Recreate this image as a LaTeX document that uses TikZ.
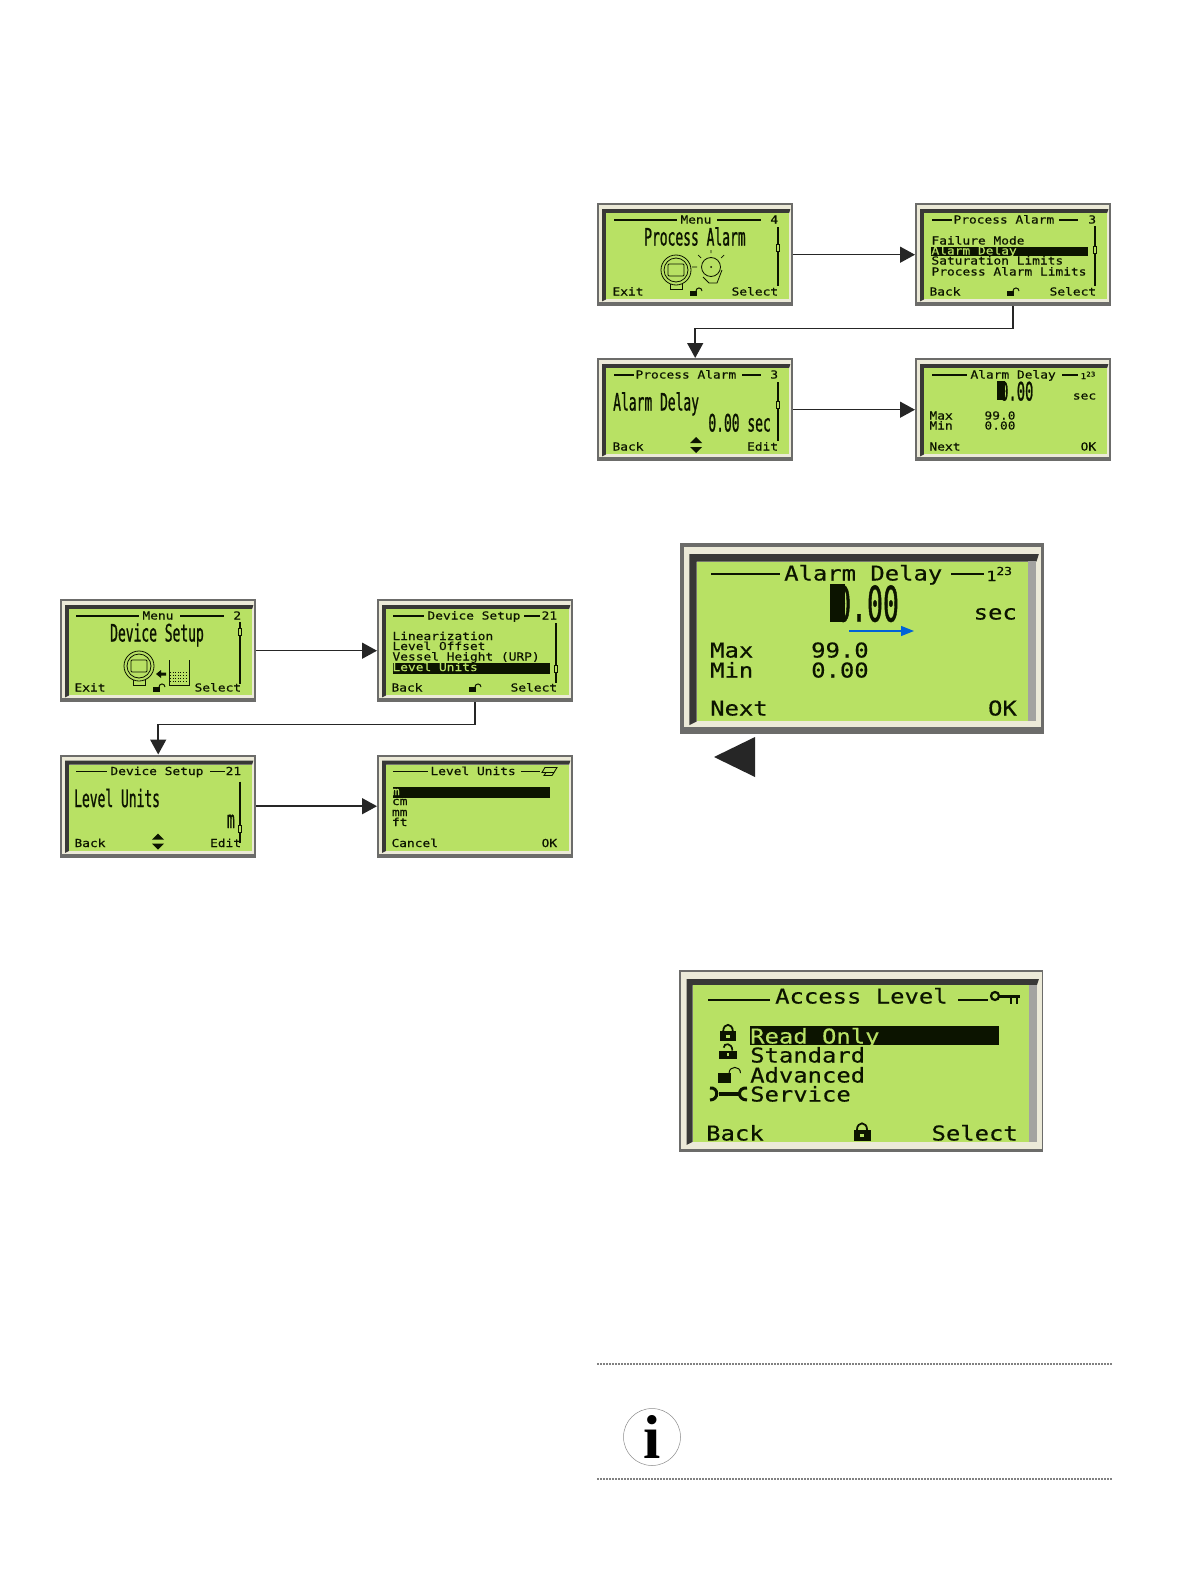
\documentclass[tikz,border=0pt]{standalone}
\usepackage{fontspec}
\usetikzlibrary{arrows.meta,positioning,calc}
\newfontfamily\lcdfont[FakeStretch=1.17,FakeBold=0.4]{DejaVu Sans Mono}
\newfontfamily\lcdtallfont[FakeStretch=0.54,FakeBold=0.8]{DejaVu Sans Mono}
\setmainfont{Liberation Serif}
\definecolor{lcdgreen}{HTML}{B8E164}
\definecolor{lcdink}{HTML}{0C1400}
\definecolor{lcdcream}{HTML}{ECEAD8}
\definecolor{lcdgrey}{HTML}{6C6C6A}
\definecolor{lcddark}{HTML}{383836}
\definecolor{lcdstrip}{HTML}{A3A3A0}
\tikzset{
    lcdouter/.style={fill=lcdgrey,draw=none,inner sep=0pt,anchor=north west},
    lcdsmall/.style={inner sep=0pt,anchor=west,xshift=-.7pt,text=lcdink,text height=7pt,text depth=0pt,font=\lcdfont\fontsize{11}{11}\selectfont},
    lcdbig/.style={inner sep=0pt,anchor=west,text=lcdink,text height=15pt,text depth=0pt,font=\lcdfont\fontsize{20.4}{20.4}\selectfont},
    lcdtall/.style={inner sep=0pt,anchor=west,text=lcdink,text height=17pt,text depth=0pt,font=\lcdtallfont\fontsize{24}{24}\selectfont},
    lcdnum/.style={inner sep=0pt,anchor=west,text=lcdink,text height=19pt,text depth=0pt,font=\lcdtallfont\fontsize{25.5}{25.5}\selectfont},
    lcdnumbig/.style={inner sep=0pt,anchor=west,text=lcdink,text height=37pt,text depth=0pt,font=\lcdtallfont\fontsize{49}{49}\selectfont},
    lcdtiny/.style={inner sep=0pt,anchor=west,text=lcdink,text height=5pt,text depth=0pt,font=\lcdfont\fontsize{6.5}{6.5}\selectfont},
    lcdrule/.style={draw=lcdink,line width=1.1pt},
    lcdarrow/.style={draw=black!85,line width=1.5pt,-{Triangle[length=15pt,width=16pt]}},
    lockopen/.pic={
        \fill[lcdink] (-7,-1) rectangle (0,4);
        \draw[lcdink,line width=1pt] (-1,-1) .. controls (-1,-5) and (5,-5) .. (5,-1);
    },
    lockclosed/.pic={
        \fill[lcdink] (-5,-1) rectangle (5,5);
        \draw[lcdink,line width=1.8pt] (-3,-1) .. controls (-3,-6.5) and (3,-6.5) .. (3,-1);
        \fill[lcdgreen] (-1,1) rectangle (1,3);
    },
    lockhalf/.pic={
        \fill[lcdink] (-6,-1) rectangle (6,5);
        \draw[lcdink,line width=1.7pt] (-3,-3) .. controls (-3,-6.5) and (3,-6.5) .. (3,-1);
        \fill[lcdgreen] (-1,1) rectangle (1,3);
    },
    updown/.pic={
        \fill[lcdink] (-6,-2) -- (0,-8) -- (6,-2) -- cycle;
        \fill[lcdink] (-6,2) -- (0,8) -- (6,2) -- cycle;
    },
    transmitter/.pic={
        \draw[lcdink,line width=.8pt] (0,0) circle[radius=15];
        \draw[lcdink,line width=.8pt] (0,0) circle[radius=12];
        \draw[lcdink,line width=.8pt,rounded corners=1pt] (-8,-6) rectangle (8,6);
        \draw[lcdink,line width=.8pt] (-6,14) -- (-6,19) -- (6,19) -- (6,14);
    },
}
% one display: name, left, top, width, height, bevel factor, cream inset
\newcommand{\lcdscreen}[7]{
    \node[lcdouter,minimum width=#4pt,minimum height=#5pt] (#1) at (#2,#3) {};
    \fill[lcdcream] ([shift={(#7,#7)}]#1.north west) rectangle ([shift={(-#7,-2*#7)}]#1.south east);
    \fill[lcddark] ([shift={(5*#6,6*#6)}]#1.north west) -- ([shift={(-3*#6,6*#6)}]#1.north east)
        -- ([shift={(-4.3*#6,10*#6)}]#1.north east) -- ([shift={(9*#6,10*#6)}]#1.north west)
        -- ([shift={(9*#6,-7*#6)}]#1.south west) -- ([shift={(5*#6,-5*#6)}]#1.south west) -- cycle;
    \fill[lcdgreen] ([shift={(9*#6,10*#6)}]#1.north west) rectangle ([shift={(-4.3*#6,-7*#6)}]#1.south east);
}
\begin{document}
\begin{tikzpicture}[x=1pt,y=-1pt]
    \useasboundingbox (0,0) rectangle (1191,1584);
    \fill[white] (0,0) rectangle (1191,1584);

    % upper chain
    \lcdscreen{menuAlarm}{597}{203}{196}{103}{1}{2}
    \lcdscreen{listAlarm}{915}{203}{196}{103}{1}{2}
    \lcdscreen{showDelay}{597}{358}{196}{103}{1}{2}
    \lcdscreen{editDelay}{915}{358}{196}{103}{1}{2}
    \draw[lcdarrow] (menuAlarm.east) -- (listAlarm.west);
    \draw[lcdarrow] (listAlarm.south) -- ++(0,22) -| (showDelay.north);
    \draw[lcdarrow] (showDelay.east) -- (editDelay.west);

    % lower chain
    \lcdscreen{menuSetup}{60}{599}{196}{103}{1}{2}
    \lcdscreen{listSetup}{377}{599}{196}{103}{1}{2}
    \lcdscreen{showUnits}{60}{754.5}{196}{103}{1}{2}
    \lcdscreen{editUnits}{377}{754.5}{196}{103}{1}{2}
    \draw[lcdarrow] (menuSetup.east) -- (listSetup.west);
    \draw[lcdarrow] (listSetup.south) -- ++(0,22) -| (showUnits.north);
    \draw[lcdarrow] (showUnits.east) -- (editUnits.west);

    % menu / process alarm
    \begin{scope}[shift={(597,203)}]
        \draw[lcdrule] (17,17) -- (80,17) (120,17) -- (164,17) (181,24) -- (181,83);
        \fill[lcdgreen,draw=lcdink,line width=.6pt] (179.5,41) rectangle (182.5,48);
        \node[lcdsmall] (maTitle) at (84,17) {Menu};
        \node[lcdsmall,anchor=east] (maPage) at (182,17) {4};
        \node[lcdtall] (maName) at (47,34) {Process Alarm};
        \pic at (79,67) {transmitter};
        \draw[lcdink,line width=.8pt] (114,64) circle[radius=9.5];
        \draw[lcdink,line width=.8pt] (106,74) -- (112,80) -- (120,80) -- (125,67);
        \fill[lcdink] (114,64) circle[radius=1];
        \draw[lcdink,line width=.7pt] (95,64) -- (100,64) (101,52) -- (104,55) (114,47) -- (114,50) (127,52) -- (124,55);
        \node[lcdsmall] (maExit) at (16,89) {Exit};
        \pic at (100,89) {lockopen};
        \node[lcdsmall,anchor=east] (maSelect) at (182,89) {Select};
    \end{scope}

    \begin{scope}[shift={(915,203)}]
        \draw[lcdrule] (17,17) -- (37,17) (144,17) -- (163,17) (180,23) -- (180,83);
        \fill[lcdink] (16,44) rectangle (173,53);
        \fill[lcdgreen,draw=lcdink,line width=.6pt] (178.5,43) rectangle (181.5,50);
        \node[lcdsmall] (laTitle) at (39,17) {Process Alarm};
        \node[lcdsmall,anchor=east] (laPage) at (182,17) {3};
        \node[lcdsmall] (laFail) at (17,38) {Failure Mode};
        \node[lcdsmall,text=lcdgreen] (laDelay) at (17,48) {Alarm Delay};
        \node[lcdsmall] (laSat) at (17,58) {Saturation Limits};
        \node[lcdsmall] (laLimits) at (17,69) {Process Alarm Limits};
        \node[lcdsmall] (laBack) at (15,89) {Back};
        \pic at (99,89) {lockopen};
        \node[lcdsmall,anchor=east] (laSelect) at (182,89) {Select};
    \end{scope}

    \begin{scope}[shift={(597,358)}]
        \draw[lcdrule] (17,17) -- (37,17) (145,17) -- (164,17) (181,24) -- (181,83);
        \fill[lcdgreen,draw=lcdink,line width=.6pt] (179.5,43) rectangle (182.5,50);
        \node[lcdsmall] (sdTitle) at (39,17) {Process Alarm};
        \node[lcdsmall,anchor=east] (sdPage) at (182,17) {3};
        \node[lcdtall] (sdName) at (16,44) {Alarm Delay};
        \node[lcdtall,anchor=east] (sdValue) at (174,65) {0.00 sec};
        \node[lcdsmall] (sdBack) at (16,89) {Back};
        \pic at (99,87) {updown};
        \node[lcdsmall,anchor=east] (sdEdit) at (182,89) {Edit};
    \end{scope}

    \begin{scope}[shift={(915,358)}]
        \draw[lcdrule] (17,17) -- (52,17) (147,17) -- (163,17);
        \fill[lcdink] (82,23) rectangle (90,42);
        \node[lcdsmall] (edTitle) at (56,17) {Alarm Delay};
        \node[lcdsmall,font=\lcdfont\fontsize{8}{8}\selectfont,text height=6pt] (edOne) at (166,18) {1};
        \node[lcdtiny] (edPow) at (171,16) {23};
        \node[lcdnum] (edValue) at (85,33) {0.00};
        \node[lcdsmall,anchor=east] (edUnit) at (182,38) {sec};
        \node[lcdsmall] (edMax) at (15,58) {Max};
        \node[lcdsmall] (edMin) at (15,68) {Min};
        \node[lcdsmall] (edMaxVal) at (70,58) {99.0};
        \node[lcdsmall] (edMinVal) at (70,68) {0.00};
        \node[lcdsmall] (edNext) at (15,89) {Next};
        \node[lcdsmall,anchor=east] (edOk) at (182,89) {OK};
    \end{scope}

    % device setup
    \begin{scope}[shift={(60,599)}]
        \draw[lcdrule] (16,17) -- (79,17) (120,17) -- (164,17) (180,23) -- (180,85);
        \fill[lcdgreen,draw=lcdink,line width=.6pt] (178.5,29) rectangle (181.5,36);
        \node[lcdsmall] (msTitle) at (83,17) {Menu};
        \node[lcdsmall,anchor=east] (msPage) at (182,17) {2};
        \node[lcdtall] (msName) at (50,34) {Device Setup};
        \pic at (79,67) {transmitter};
        \fill[lcdink] (96,75) -- (101,71) -- (101,73.5) -- (106,73.5) -- (106,76.5) -- (101,76.5) -- (101,79) -- cycle;
        \draw[lcdink,line width=.8pt] (109,61) -- (109,86) -- (129,86) -- (129,61);
        \draw[lcdink,line width=.6pt,dotted] (110,73) -- (128,73) (110,76) -- (128,76) (110,79) -- (128,79) (110,82) -- (128,82);
        \node[lcdsmall] (msExit) at (15,89) {Exit};
        \pic at (100,89) {lockopen};
        \node[lcdsmall,anchor=east] (msSelect) at (182,89) {Select};
    \end{scope}

    \begin{scope}[shift={(377,599)}]
        \draw[lcdrule] (16,17) -- (47,17) (147,17) -- (163,17) (179,24) -- (179,84);
        \fill[lcdink] (16,63.5) rectangle (172.5,74.5);
        \fill[lcdgreen,draw=lcdink,line width=.6pt] (177.5,66) rectangle (180.5,73);
        \node[lcdsmall] (lsTitle) at (51,17) {Device Setup};
        \node[lcdsmall,anchor=east] (lsPage) at (181,17) {21};
        \node[lcdsmall] (lsLin) at (16,37.5) {Linearization};
        \node[lcdsmall] (lsOff) at (16,47.5) {Level Offset};
        \node[lcdsmall] (lsVes) at (16,58) {Vessel Height (URP)};
        \node[lcdsmall,text=lcdgreen] (lsUni) at (16,68.5) {Level Units};
        \node[lcdsmall] (lsBack) at (15,89) {Back};
        \pic at (99,89) {lockopen};
        \node[lcdsmall,anchor=east] (lsSelect) at (181,89) {Select};
    \end{scope}

    \begin{scope}[shift={(60,754.5)}]
        \draw[lcdrule] (16,17) -- (47,17) (150,17) -- (165,17) (180,27) -- (180,88);
        \fill[lcdgreen,draw=lcdink,line width=.6pt] (178.5,71) rectangle (181.5,78);
        \node[lcdsmall] (suTitle) at (51,17) {Device Setup};
        \node[lcdsmall,anchor=east] (suPage) at (182,17) {21};
        \node[lcdtall] (suName) at (14,44) {Level Units};
        \node[lcdtall,anchor=east] (suValue) at (175,65) {m};
        \node[lcdsmall] (suBack) at (15,89) {Back};
        \pic at (98,87) {updown};
        \node[lcdsmall,anchor=east] (suEdit) at (182,89) {Edit};
    \end{scope}

    \begin{scope}[shift={(377,754.5)}]
        \draw[lcdrule] (16,17) -- (51,17) (144,17) -- (163,17);
        \fill[lcdink] (16,32) rectangle (172.5,43);
        \draw[lcdink,line width=.9pt] (168,13) -- (180,13) -- (177,18) -- (165,18) -- cycle (169,18) -- (167,21) -- (175,21) -- (177,18);
        \node[lcdsmall] (euTitle) at (54,17) {Level Units};
        \node[lcdsmall,text=lcdgreen] (euM) at (15.5,37) {m};
        \node[lcdsmall] (euCm) at (15.5,47) {cm};
        \node[lcdsmall] (euMm) at (15.5,58) {mm};
        \node[lcdsmall] (euFt) at (15.5,68) {ft};
        \node[lcdsmall] (euCancel) at (15,89) {Cancel};
        \node[lcdsmall,anchor=east] (euOk) at (181,89) {OK};
    \end{scope}

    % large alarm delay display
    \lcdscreen{bigDelay}{680}{543}{364}{191}{1.85}{3.5}
    \fill[lcdstrip] (1028,561) rectangle (1036.2,721);
    \draw[lcdrule,line width=1.6pt] (711,574) -- (780,574) (951,574) -- (984,574);
    \fill[lcdink] (830,584) rectangle (845,622);
    \node[lcdbig] (bdTitle) at (784,573) {Alarm Delay};
    \node[lcdsmall,font=\lcdfont\fontsize{14}{14}\selectfont,text height=10pt] (bdOne) at (987,576) {1};
    \node[lcdsmall,font=\lcdfont\fontsize{11}{11}\selectfont,text height=8pt] (bdPow) at (997,571) {23};
    \node[lcdnumbig] (bdValue) at (835,603) {0.00};
    \node[lcdbig,anchor=east] (bdUnit) at (1017,612) {sec};
    \node[lcdbig] (bdMax) at (710,650) {Max};
    \node[lcdbig] (bdMin) at (710,670) {Min};
    \node[lcdbig] (bdMaxVal) at (811,650) {99.0};
    \node[lcdbig] (bdMinVal) at (811,670) {0.00};
    \node[lcdbig] (bdNext) at (710,708) {Next};
    \node[lcdbig,anchor=east] (bdOk) at (1017,708) {OK};
    \coordinate (bdFrom) at (849,631);
    \coordinate (bdTo) at (914,631);
    \draw[draw=blue!55!cyan!85!black,line width=1.2pt,-{Triangle[length=13pt,width=10pt]}] (bdFrom) -- (bdTo);
    \fill[black!85] (714,757) -- (755,737) -- (755,777) -- cycle;

    % large access level display
    \lcdscreen{bigAccess}{679}{970}{364}{182}{1.5}{1.5}
    \fill[lcdstrip] (1029,985) rectangle (1036.7,1141.5);
    \draw[lcdrule,line width=1.6pt] (708,1000) -- (770,1000) (958,1000) -- (988,1000);
    \fill[lcdink] (750,1026) rectangle (999,1045);
    \node[lcdbig] (baTitle) at (775,996) {Access Level};
    \draw[lcdink,line width=2.2pt] (995,996) circle[radius=4];
    \draw[lcdink,line width=3pt] (999,996) -- (1020,996);
    \draw[lcdink,line width=2.6pt] (1011,996) -- (1011,1004) (1017,996) -- (1017,1004);
    \node[lcdbig,text=lcdgreen] (baRead) at (750,1036) {Read Only};
    \node[lcdbig] (baStd) at (750,1055) {Standard};
    \node[lcdbig] (baAdv) at (750,1075) {Advanced};
    \node[lcdbig] (baSrv) at (750,1094) {Service};
    \pic[scale=1.6] at (728,1033) {lockclosed};
    \pic[scale=1.45] at (728,1052) {lockhalf};
    \pic[scale=1.9] at (731,1075) {lockopen};
    \draw[lcdink,line width=3.4pt] (719,1094) -- (739,1094);
    \draw[lcdink,line width=3pt] (710,1088) .. controls (719,1087) and (719,1100) .. (710,1100);
    \draw[lcdink,line width=3pt] (747,1088) .. controls (737,1087) and (737,1100) .. (747,1100);
    \node[lcdbig] (baBack) at (706,1133) {Back};
    \pic[scale=1.7] at (862,1132) {lockclosed};
    \node[lcdbig,anchor=east] (baSelect) at (1018,1133) {Select};

    % note
    \draw[black,line width=1.6pt,line cap=round,dash pattern=on 0pt off 3pt] (598,1364) -- (1111,1364);
    \draw[black,line width=1.6pt,line cap=round,dash pattern=on 0pt off 3pt] (598,1479) -- (1111,1479);
    \node[circle,draw=black!45,line width=.5pt,minimum size=57pt,inner sep=0pt,font=\bfseries\fontsize{62}{62}\selectfont] (noteIcon) at (652,1437) {i};
\end{tikzpicture}
\end{document}
